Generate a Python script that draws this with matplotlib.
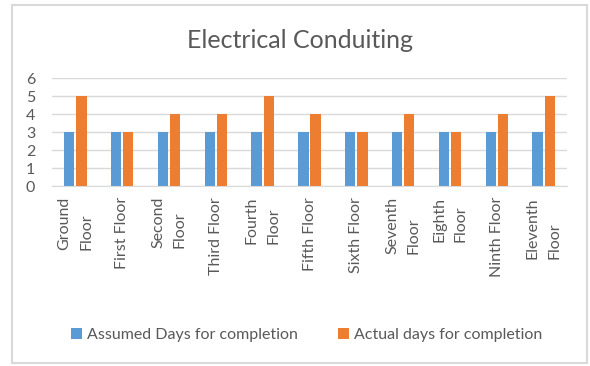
import numpy as np
import matplotlib.pyplot as plt
from matplotlib.patches import Rectangle

plt.rcParams['font.family'] = ['Lato', 'DejaVu Sans']

floors = ["Ground\nFloor", "First Floor", "Second\nFloor", "Third Floor", "Fourth\nFloor",
          "Fifth Floor", "Sixth Floor", "Seventh\nFloor", "Eighth\nFloor", "Ninth Floor",
          "Eleventh\nFloor"]
assumed = [3, 3, 3, 3, 3, 3, 3, 3, 3, 3, 3]
actual = [5, 3, 4, 4, 5, 4, 3, 4, 3, 4, 5]

blue = '#5b9bd5'
orange = '#ed7d31'
grey = '#595959'

fig = plt.figure(figsize=(5.9, 3.66), dpi=100)
fig.patches.append(Rectangle((12 / 590, 3 / 366), 575 / 590, 358 / 366,
                             transform=fig.transFigure, fill=False,
                             edgecolor='#d9d9d9', linewidth=1.5))

ax = fig.add_axes([52 / 590, 1 - 186 / 366, 515 / 590, 108 / 366])
x = np.arange(len(floors))
w = 0.22
ax.bar(x - w / 2 - 0.02, assumed, w, color=blue, label='Assumed Days for completion')
ax.bar(x + w / 2 + 0.02, actual, w, color=orange, label='Actual days for completion')

ax.set_xlim(-0.5, len(floors) - 0.5)
ax.set_ylim(0, 6)
ax.set_yticks(range(7))
ax.yaxis.grid(True, color='#d9d9d9', linewidth=1)
ax.set_axisbelow(True)
for s in ['top', 'right', 'left']:
    ax.spines[s].set_visible(False)
ax.spines['bottom'].set_color('#d9d9d9')
ax.tick_params(axis='both', length=0, colors=grey, labelsize=11.5)
ax.tick_params(axis='y', pad=12)
ax.set_xticks(x)
ax.set_xticklabels(floors, rotation=90, va='top', ha='center', multialignment='left',
                   linespacing=1.7)
ax.tick_params(axis='x', pad=8)

fig.text(0.509, 1 - 40 / 366, 'Electrical Conduiting', ha='center', va='center',
         fontsize=18, color=grey)
fig.legend(loc='center', bbox_to_anchor=(0.52, 1 - 335 / 366), ncol=2, frameon=False,
           fontsize=11.5, labelcolor=grey, handlelength=0.7, handleheight=0.7,
           handletextpad=0.3, columnspacing=2.5)

fig.savefig('out.png', dpi=100)
